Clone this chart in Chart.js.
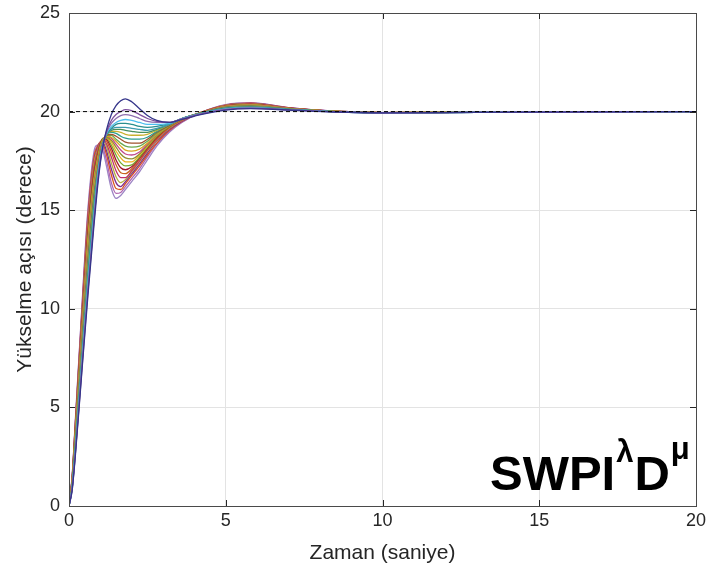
<!DOCTYPE html>
<html>
<head>
<meta charset="utf-8">
<script src="https://cdn.jsdelivr.net/npm/chart.js@4.4.0/dist/chart.umd.min.js"></script>
<style>
html, body { margin: 0; padding: 0; background: #fff; }
</style>
</head>
<body>
<canvas id="my_Chart" width="708" height="569"></canvas>
<script>
// time samples (s) shared by every response curve
var times = [0, 0.1, 0.2, 0.4, 0.6, 0.8, 0.9, 1.0, 1.1, 1.2, 1.35, 1.5, 1.65, 1.8, 2.0, 2.25, 2.5, 2.8, 3.2, 3.6, 4.2, 5.0, 5.8, 7.0, 8.5, 10, 13, 20];

// elevation angle (deg) of each run
var responses = [
	[0, 1.5, 4.3, 9.8, 15.0, 18.0, 18.3, 18.3, 17.9, 17.2, 16.1, 15.6, 15.75, 16.05, 16.45, 16.95, 17.55, 18.25, 18.95, 19.45, 19.95, 20.35, 20.45, 20.2, 20.02, 19.95, 19.96, 20],
	[0, 1.5, 4.2, 9.7, 14.8, 17.8, 18.25, 18.4, 18.1, 17.5, 16.4, 15.85, 15.9, 16.2, 16.6, 17.1, 17.7, 18.35, 19.0, 19.47, 19.95, 20.34, 20.44, 20.2, 20.02, 19.95, 19.96, 20],
	[0, 1.4, 4.1, 9.5, 14.6, 17.7, 18.2, 18.45, 18.3, 17.8, 16.8, 16.1, 16.05, 16.35, 16.75, 17.25, 17.8, 18.4, 19.05, 19.5, 19.95, 20.33, 20.43, 20.19, 20.02, 19.95, 19.96, 20],
	[0, 1.4, 4.1, 9.4, 14.4, 17.5, 18.1, 18.45, 18.4, 18.0, 17.1, 16.4, 16.2, 16.45, 16.85, 17.35, 17.9, 18.5, 19.1, 19.52, 19.95, 20.32, 20.41, 20.19, 20.02, 19.95, 19.96, 20],
	[0, 1.4, 4.0, 9.2, 14.2, 17.4, 18.0, 18.45, 18.5, 18.2, 17.4, 16.7, 16.4, 16.55, 16.95, 17.45, 18.0, 18.55, 19.15, 19.55, 19.95, 20.31, 20.4, 20.18, 20.02, 19.95, 19.96, 20],
	[0, 1.4, 3.9, 9.1, 14.0, 17.2, 17.9, 18.45, 18.6, 18.35, 17.7, 17.0, 16.65, 16.65, 17.0, 17.5, 18.05, 18.6, 19.2, 19.57, 19.95, 20.3, 20.39, 20.18, 20.01, 19.95, 19.96, 20],
	[0, 1.3, 3.8, 9.0, 13.9, 17.0, 17.8, 18.4, 18.65, 18.5, 17.95, 17.3, 16.9, 16.85, 17.1, 17.6, 18.1, 18.65, 19.2, 19.58, 19.95, 20.29, 20.38, 20.17, 20.01, 19.95, 19.96, 20],
	[0, 1.3, 3.8, 8.8, 13.7, 16.9, 17.7, 18.35, 18.65, 18.6, 18.15, 17.55, 17.15, 17.05, 17.2, 17.65, 18.15, 18.7, 19.25, 19.6, 19.95, 20.28, 20.36, 20.17, 20.01, 19.95, 19.96, 20],
	[0, 1.3, 3.7, 8.7, 13.5, 16.7, 17.6, 18.3, 18.65, 18.65, 18.3, 17.8, 17.4, 17.25, 17.3, 17.7, 18.2, 18.75, 19.25, 19.6, 19.94, 20.27, 20.35, 20.16, 20.01, 19.95, 19.96, 20],
	[0, 1.2, 3.6, 8.5, 13.3, 16.5, 17.45, 18.2, 18.6, 18.7, 18.45, 18.0, 17.65, 17.45, 17.45, 17.8, 18.25, 18.8, 19.3, 19.62, 19.94, 20.26, 20.34, 20.16, 20.01, 19.95, 19.96, 20],
	[0, 1.2, 3.5, 8.4, 13.1, 16.4, 17.35, 18.15, 18.6, 18.7, 18.55, 18.2, 17.85, 17.65, 17.6, 17.85, 18.3, 18.8, 19.3, 19.62, 19.94, 20.25, 20.33, 20.15, 20.01, 19.95, 19.96, 20],
	[0, 1.2, 3.4, 8.3, 12.9, 16.2, 17.25, 18.05, 18.55, 18.75, 18.65, 18.35, 18.05, 17.85, 17.8, 17.95, 18.35, 18.85, 19.3, 19.63, 19.94, 20.24, 20.31, 20.15, 20.0, 19.95, 19.96, 20],
	[0, 1.1, 3.4, 8.1, 12.7, 16.1, 17.15, 17.95, 18.5, 18.75, 18.7, 18.5, 18.25, 18.05, 18.0, 18.1, 18.4, 18.85, 19.3, 19.63, 19.93, 20.23, 20.3, 20.14, 20.0, 19.95, 19.96, 20],
	[0, 1.1, 3.3, 8.0, 12.5, 15.9, 17.0, 17.9, 18.5, 18.8, 18.8, 18.6, 18.4, 18.25, 18.2, 18.25, 18.5, 18.9, 19.3, 19.63, 19.93, 20.22, 20.29, 20.14, 20.0, 19.95, 19.96, 20],
	[0, 1.1, 3.2, 7.9, 12.3, 15.7, 16.9, 17.85, 18.45, 18.8, 18.85, 18.75, 18.6, 18.45, 18.4, 18.4, 18.6, 18.95, 19.3, 19.63, 19.92, 20.21, 20.28, 20.13, 20.0, 19.95, 19.96, 20],
	[0, 1.0, 3.1, 7.7, 12.1, 15.6, 16.8, 17.8, 18.45, 18.85, 18.95, 18.9, 18.75, 18.65, 18.6, 18.6, 18.7, 19.0, 19.35, 19.64, 19.92, 20.2, 20.26, 20.13, 20.0, 19.95, 19.96, 20],
	[0, 1.0, 3.0, 7.6, 11.9, 15.4, 16.7, 17.8, 18.45, 18.85, 19.0, 19.0, 18.95, 18.85, 18.8, 18.8, 18.85, 19.05, 19.35, 19.64, 19.91, 20.19, 20.25, 20.12, 20.0, 19.95, 19.96, 20],
	[0, 1.0, 3.0, 7.4, 11.7, 15.3, 16.65, 17.75, 18.45, 18.85, 19.05, 19.1, 19.1, 19.05, 19.0, 18.95, 18.95, 19.1, 19.35, 19.64, 19.91, 20.18, 20.24, 20.12, 20.0, 19.94, 19.96, 20],
	[0, 0.9, 2.9, 7.3, 11.6, 15.1, 16.6, 17.75, 18.45, 18.85, 19.1, 19.2, 19.2, 19.2, 19.15, 19.1, 19.05, 19.15, 19.35, 19.64, 19.9, 20.17, 20.23, 20.11, 19.99, 19.94, 19.96, 20],
	[0, 0.9, 2.8, 7.1, 11.4, 14.9, 16.6, 17.75, 18.45, 18.85, 19.15, 19.35, 19.4, 19.4, 19.35, 19.25, 19.2, 19.25, 19.4, 19.65, 19.9, 20.16, 20.21, 20.11, 19.99, 19.94, 19.96, 20],
	[0, 0.9, 2.7, 7.0, 11.2, 14.8, 16.5, 17.7, 18.45, 18.9, 19.25, 19.45, 19.55, 19.6, 19.55, 19.45, 19.35, 19.35, 19.4, 19.64, 19.89, 20.14, 20.2, 20.1, 19.99, 19.94, 19.96, 20],
	[0, 0.9, 2.6, 6.9, 11.0, 14.6, 16.3, 17.6, 18.4, 18.95, 19.4, 19.65, 19.8, 19.85, 19.8, 19.65, 19.5, 19.45, 19.45, 19.63, 19.88, 20.12, 20.18, 20.09, 19.99, 19.94, 19.96, 20],
	[0, 0.8, 2.6, 6.7, 10.8, 14.5, 16.2, 17.5, 18.4, 19.0, 19.55, 19.85, 20.0, 20.1, 20.05, 19.85, 19.65, 19.5, 19.45, 19.62, 19.87, 20.1, 20.17, 20.09, 19.98, 19.94, 19.96, 20],
	[0, 0.8, 2.5, 6.6, 10.6, 14.3, 16.0, 17.4, 18.4, 19.1, 19.85, 20.3, 20.55, 20.65, 20.5, 20.15, 19.8, 19.55, 19.45, 19.6, 19.85, 20.08, 20.15, 20.08, 19.98, 19.94, 19.96, 20]
];

// set point (deg) and the time span it is drawn over
var setPoint = 20;
var setPointSpan = [0, 20];

var xTicks = [0, 5, 10, 15, 20];
var yTicks = [0, 5, 10, 15, 20, 25];

var lineColors = ['#9c84c4', '#b065b0', '#d95319', '#7e2f8e', '#b5b040', '#c0306a', '#c8641e', '#a2142f',
	'#77ac30', '#edb120', '#909030', '#c04a8a', '#d9a520', '#6aa84f', '#a0522d', '#2e9e8e',
	'#c8b030', '#4a8f5a', '#3d9bb0', '#2a8f8f', '#4dbeee', '#8f6fb0', '#7e4f9e', '#35358a'];

var FONT = '"Liberation Sans", Arial, Helvetica, sans-serif';
var INK = '#262626';

var datasets = [];
// dashed set point line first so it is painted on top
datasets.push({
	data: setPointSpan.map(function (t) { return {x: t, y: setPoint}; }),
	borderColor: '#000',
	borderWidth: 1,
	borderDash: [4, 3],
	tension: 0
});
for (var i = responses.length - 1; i >= 0; i--) {
	datasets.push({
		data: times.map(function (t, j) { return {x: t, y: responses[i][j]}; }),
		borderColor: lineColors[i],
		borderWidth: 1.3,
		cubicInterpolationMode: 'monotone'
	});
}

// MATLAB style box, inward ticks and the controller name
var boxPlugin = {
	id: 'box',
	afterDatasetsDraw: function (chart) {
		var ctx = chart.ctx, a = chart.chartArea;
		var xs = chart.scales.x, ys = chart.scales.y;
		ctx.save();
		ctx.strokeStyle = INK;
		ctx.lineWidth = 1;
		ctx.beginPath();
		xTicks.forEach(function (v) {
			var px = Math.round(xs.getPixelForValue(v)) + 0.5;
			ctx.moveTo(px, a.bottom); ctx.lineTo(px, a.bottom - 6);
			ctx.moveTo(px, a.top); ctx.lineTo(px, a.top + 6);
		});
		yTicks.forEach(function (v) {
			var py = Math.round(ys.getPixelForValue(v)) + 0.5;
			ctx.moveTo(a.left, py); ctx.lineTo(a.left + 6, py);
			ctx.moveTo(a.right, py); ctx.lineTo(a.right - 6, py);
		});
		ctx.stroke();
		ctx.strokeStyle = '#4a4a4a';
		ctx.strokeRect(Math.round(a.left) + 0.5, Math.round(a.top) + 0.5,
			Math.round(a.right - a.left), Math.round(a.bottom - a.top));

		ctx.fillStyle = '#000';
		ctx.textBaseline = 'alphabetic';
		var x = 490, base = 490;
		ctx.font = 'bold 49px ' + FONT;
		ctx.fillText('SWPI', x, base); x += ctx.measureText('SWPI').width + 1;
		ctx.font = 'bold 31px ' + FONT;
		ctx.fillText('λ', x, base - 28); x += ctx.measureText('λ').width + 1;
		ctx.font = 'bold 49px ' + FONT;
		ctx.fillText('D', x, base); x += ctx.measureText('D').width + 1;
		ctx.font = 'bold 31px ' + FONT;
		ctx.fillText('μ', x, base - 31);
		ctx.restore();
	}
};

var ctx = document.getElementById('my_Chart').getContext('2d');
var myChart = new Chart(ctx, {
	type: 'line',
	data: {datasets: datasets},
	options: {
		responsive: false,
		animation: false,
		layout: {padding: {top: 13, right: 12, left: 0, bottom: 0}},
		elements: {point: {radius: 0}},
		plugins: {legend: {display: false}, tooltip: {enabled: false}},
		scales: {
			x: {
				type: 'linear', min: 0, max: 20,
				afterFit: function (s) { s.height = 63; s.paddingLeft = 0; s.paddingRight = 0; },
				afterBuildTicks: function (s) { s.ticks = xTicks.map(function (v) { return {value: v}; }); },
				grid: {color: '#e3e3e3', drawTicks: false},
				border: {display: false},
				ticks: {color: INK, padding: 4, font: {family: FONT, size: 18}},
				title: {display: true, text: 'Zaman (saniye)', color: INK, padding: {top: 0, bottom: 3}, font: {family: FONT, size: 21}}
			},
			y: {
				type: 'linear', min: 0, max: 25,
				afterFit: function (s) { s.width = 69; s.paddingTop = 0; s.paddingBottom = 0; },
				afterBuildTicks: function (s) { s.ticks = yTicks.map(function (v) { return {value: v}; }); },
				grid: {color: '#e3e3e3', drawTicks: false},
				border: {display: false},
				ticks: {color: INK, padding: 9, font: {family: FONT, size: 18}},
				title: {display: true, text: 'Yükselme açısı (derece)', color: INK, padding: {top: 13, bottom: 0}, font: {family: FONT, size: 21}}
			}
		}
	},
	plugins: [boxPlugin]
});
</script>
</body>
</html>
